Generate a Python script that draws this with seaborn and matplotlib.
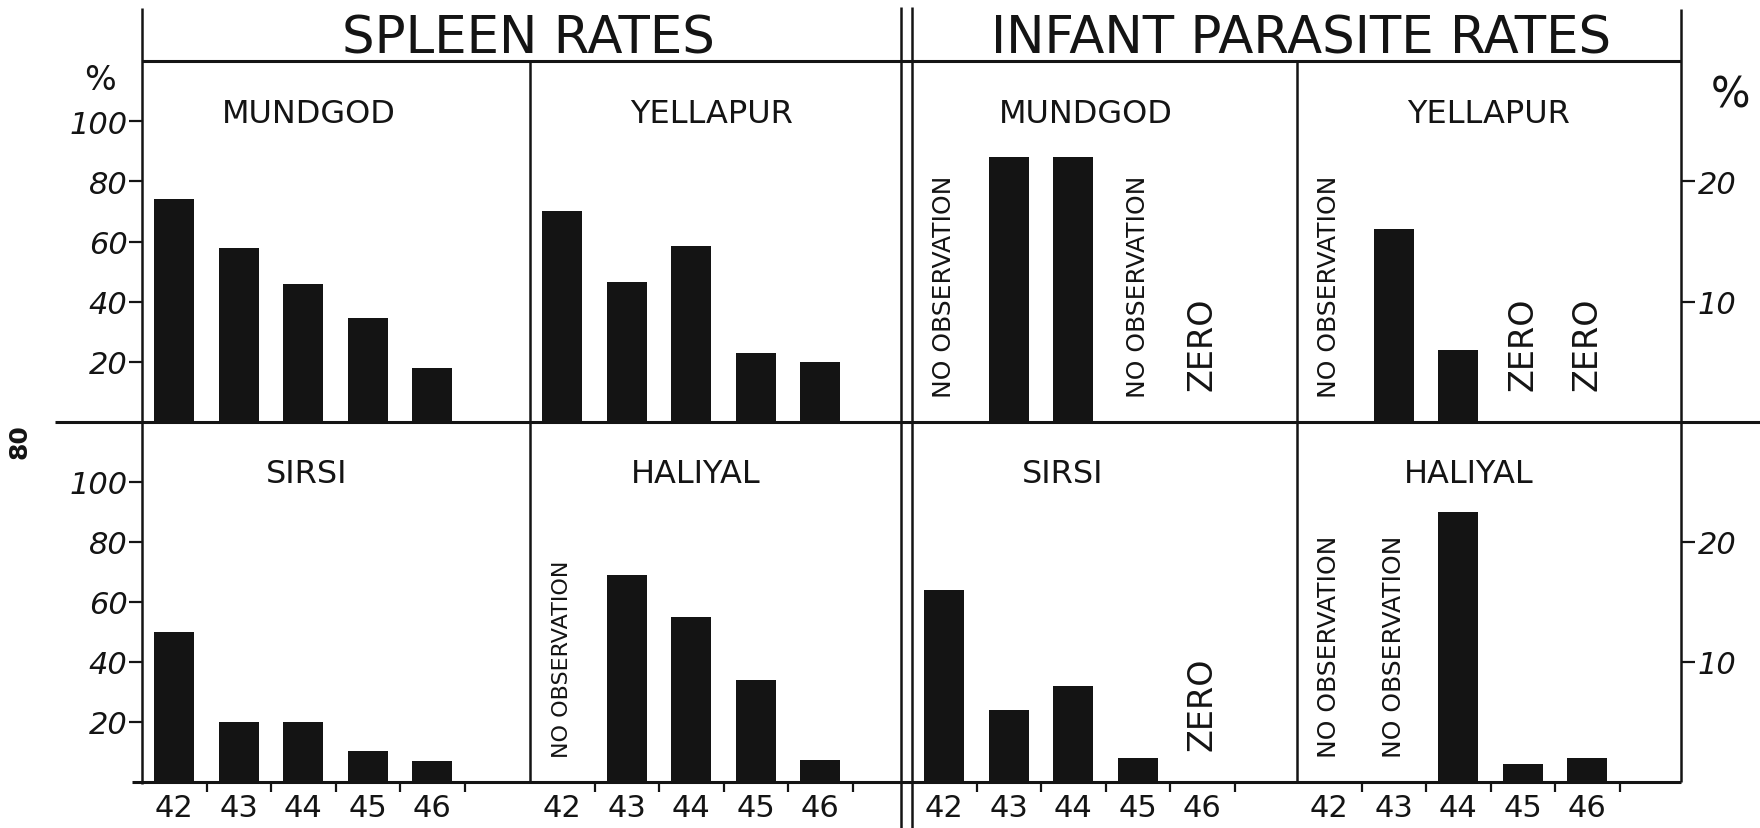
import numpy as np
import pandas as pd
import matplotlib
matplotlib.use("Agg")
import matplotlib.pyplot as plt
from matplotlib.lines import Line2D
import seaborn as sns

# years on the x axis (19xx)
years = ["42", "43", "44", "45", "46"]

# spleen rates, % (nan = no observation)
spleen_mundgod = [74, 58, 46, 34.5, 18]
spleen_yellapur = [70, 46.5, 58.5, 23, 20]
spleen_sirsi = [50, 20, 20, 10.5, 7]
spleen_haliyal = [np.nan, 69, 55, 34, 7.5]

# infant parasite rates, % (nan = no observation, 0 = zero)
infant_mundgod = [np.nan, 22, 22, np.nan, 0]
infant_yellapur = [np.nan, 16, 6, 0, 0]
infant_sirsi = [16, 6, 8, 2, 0]
infant_haliyal = [np.nan, np.nan, 22.5, 1.5, 2]

spleen_ticks = [20, 40, 60, 80, 100]
infant_ticks = [10, 20]

sns.set_style("white")
plt.rcParams["font.family"] = ["DejaVu Sans"]

ink = "#141414"
W, H = 1760, 829
fig = plt.figure(figsize=(W / 100, H / 100), dpi=100)


def rect(x0, x1, y0, y1):
    return [x0 / W, 1 - y1 / H, (x1 - x0) / W, (y1 - y0) / H]


def line(xs, ys, lw=1.8):
    fig.add_artist(Line2D([x / W for x in xs], [1 - y / H for y in ys],
                          transform=fig.transFigure, color=ink, lw=lw,
                          solid_capstyle="butt"))


# panel layout in pixels
cols = [(142, 530), (530, 901), (912, 1297), (1297, 1681)]
rows = [(62, 423), (423, 783)]
slot_px = 64.5

panels = [
    ("MUNDGOD", spleen_mundgod, 0, 0, 120, 0.43),
    ("YELLAPUR", spleen_yellapur, 0, 1, 120, 0.49),
    ("SIRSI", spleen_sirsi, 1, 0, 120, 0.425),
    ("HALIYAL", spleen_haliyal, 1, 1, 120, 0.447),
    ("MUNDGOD", infant_mundgod, 0, 2, 30, 0.452),
    ("YELLAPUR", infant_yellapur, 0, 3, 30, 0.50),
    ("SIRSI", infant_sirsi, 1, 2, 30, 0.39),
    ("HALIYAL", infant_haliyal, 1, 3, 30, 0.447),
]

for name, vals, r, c, ymax, tx in panels:
    x0, x1 = cols[c]
    y0, y1 = rows[r]
    ax = fig.add_axes(rect(x0, x1, y0, y1))
    df = pd.DataFrame({"year": years, "rate": vals})
    sns.barplot(data=df, x="year", y="rate", order=years, color=ink,
                width=0.62, saturation=1, errorbar=None, linewidth=0, ax=ax)
    ax.set_xlim(-0.5, -0.5 + (x1 - x0) / slot_px)
    ax.set_ylim(0, ymax)
    ax.set_xlabel("")
    ax.set_ylabel("")
    ax.patch.set_alpha(0)
    for s in ax.spines.values():
        s.set_visible(False)

    # x axis: labels in the slots, tick marks between them
    if r == 1:
        ax.set_xticks(range(len(years)))
        ax.set_xticklabels(years, fontsize=22, color=ink)
        ax.set_xticks([i + 0.5 for i in range(len(years))], minor=True)
        ax.tick_params(axis="x", which="major", bottom=True, length=0, pad=8)
        ax.tick_params(axis="x", which="minor", bottom=True, length=7,
                       width=1.6, color=ink, direction="out")
    else:
        ax.set_xticks([])

    # y axis: spleen on the left, infant on the right
    if c == 0:
        ax.set_yticks(spleen_ticks)
        ax.set_yticklabels([str(t) for t in spleen_ticks], fontsize=22,
                           fontstyle="italic", color=ink)
        ax.tick_params(axis="y", left=True, length=9.5, width=1.6,
                       color=ink, pad=1)
    elif c == 3:
        ax.yaxis.tick_right()
        ax.set_yticks(infant_ticks)
        ax.set_yticklabels([str(t) for t in infant_ticks], fontsize=22,
                           fontstyle="italic", color=ink)
        ax.tick_params(axis="y", right=True, left=False, length=10,
                       width=1.6, color=ink, pad=2)
    else:
        ax.set_yticks([])

    ax.text(tx, 0.832, name, transform=ax.transAxes, ha="center",
            va="baseline", fontsize=23, color=ink)

    # notes for missing and zero years
    small = 16 if ymax == 120 else 18
    for i, v in enumerate(vals):
        if np.isnan(v):
            ax.text(i, 0.07, "NO OBSERVATION", transform=ax.get_xaxis_transform(),
                    rotation=90, ha="center", va="bottom", fontsize=small,
                    color=ink)
        elif v == 0:
            ax.text(i, 0.09, "ZERO", transform=ax.get_xaxis_transform(),
                    rotation=90, ha="center", va="bottom", fontsize=24,
                    color=ink)

# frame lines drawn by hand over the panels
line([142, 142], [9, 785])
line([530, 530], [62, 783])
line([901, 901], [8, 829])
line([912, 912], [8, 829])
line([1297, 1297], [62, 783])
line([1681, 1681], [10, 783])
line([142, 1681], [62, 62], lw=2.2)
line([55, 1760], [423, 423], lw=2.2)
line([132, 1681], [783, 783], lw=2.2)

# section titles and units
fig.text(528 / W, 1 - 53 / H, "SPLEEN RATES", ha="center", va="baseline",
         fontsize=37, color=ink)
fig.text(1301 / W, 1 - 53 / H, "INFANT PARASITE RATES", ha="center",
         va="baseline", fontsize=37, color=ink)
fig.text(100 / W, 1 - 80 / H, "%", ha="center", va="center", fontsize=24,
         color=ink)
fig.text(1730 / W, 1 - 95 / H, "%", ha="center", va="center", fontsize=30,
         color=ink)
fig.text(20 / W, 1 - 442 / H, "80", ha="center", va="center", rotation=90,
         fontsize=18, fontweight="bold", color=ink)

fig.savefig("out.png", dpi=100, facecolor="white")
